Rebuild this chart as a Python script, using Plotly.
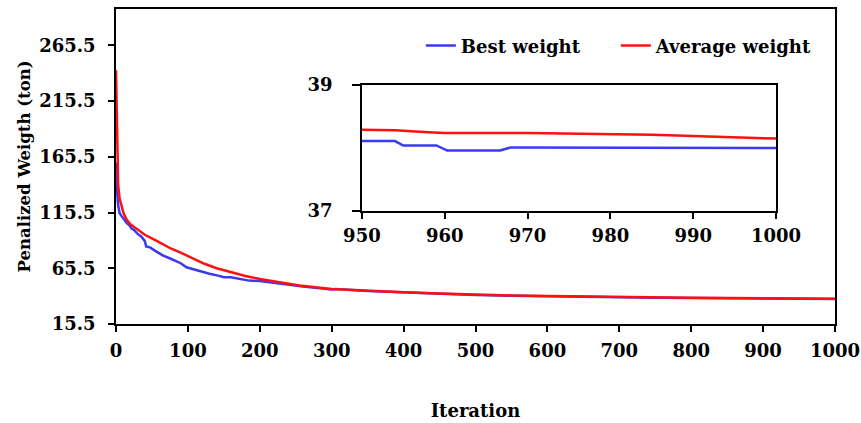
import plotly.graph_objects as go

# ---- data ----
avg_iter = [0, 1, 2, 3, 5, 7, 10, 12, 15, 20, 30, 40, 54, 65, 77, 90, 98, 110, 123,
            140, 160, 180, 200, 230, 255, 300, 350, 400, 450, 500, 550, 600, 650, 700,
            750, 800, 850, 900, 950, 954, 958, 960, 970, 975, 984, 985, 990, 995, 1000]
avg_weight = [243, 200, 155, 140, 128, 122, 116, 112.7, 109, 105, 100, 95.5, 91, 87, 83,
              79.5, 77, 73.5, 69.5, 65.5, 61.9, 58.5, 55.9, 52.5, 50, 47, 45.3, 44, 42.8,
              41.8, 41.1, 40.5, 40, 39.6, 39.3, 39.0, 38.75, 38.5, 38.29, 38.28, 38.25,
              38.24, 38.24, 38.23, 38.22, 38.21, 38.19, 38.17, 38.15]

best_iter = [0, 1, 2, 3, 5, 8, 12, 15, 19, 22, 25, 30, 35, 40, 42, 48, 54, 60, 65, 77,
             85, 90, 98, 105, 115, 123, 130, 142, 150, 160, 170, 176, 185, 200, 230, 260,
             300, 305, 350, 400, 450, 500, 550, 600, 650, 700, 750, 800, 850, 900, 950,
             954, 955, 959, 960.3, 966.7, 968, 1000]
best_weight = [160, 140, 130, 122, 115, 112, 108, 106, 103.7, 101, 100, 96.3, 94, 90, 85,
               84, 81.3, 79, 77, 73.8, 71, 70, 66.4, 65, 63.5, 61.9, 60.5, 58.9, 57.5,
               57.4, 56, 55, 54.4, 54, 51.5, 49.2, 46.5, 46.8, 45, 43.8, 42.6, 41.6, 40.9,
               40.3, 39.8, 39.4, 39.1, 38.85, 38.6, 38.35, 38.11, 38.11, 38.04, 38.04,
               37.96, 37.96, 38.01, 38.0]

main_x_ticks = [0, 100, 200, 300, 400, 500, 600, 700, 800, 900, 1000]
main_y_ticks = [15.5, 65.5, 115.5, 165.5, 215.5, 265.5]
inset_x_ticks = [950, 960, 970, 980, 990, 1000]
inset_y_ticks = [37, 39]

BLUE = "#3a3af2"
RED = "#ff1010"
FAM = "DejaVu Serif"
tick_font = dict(family=FAM, size=18, color="black", weight="bold")

fig = go.Figure()
fig.add_trace(go.Scatter(x=best_iter, y=best_weight, mode="lines", name="Best weight",
                         line=dict(color=BLUE, width=2.5)))
fig.add_trace(go.Scatter(x=avg_iter, y=avg_weight, mode="lines", name="Average weight",
                         line=dict(color=RED, width=2.5)))
fig.add_trace(go.Scatter(x=best_iter, y=best_weight, mode="lines", showlegend=False,
                         xaxis="x2", yaxis="y2", line=dict(color=BLUE, width=2.5)))
fig.add_trace(go.Scatter(x=avg_iter, y=avg_weight, mode="lines", showlegend=False,
                         xaxis="x2", yaxis="y2", line=dict(color=RED, width=2.5)))

axis_common = dict(showgrid=False, zeroline=False, showline=True, linecolor="black",
                   linewidth=1.5, tickcolor="black", tickwidth=1.5, mirror=True,
                   tickfont=tick_font, ticks="outside", automargin=False,
                   ticklabeloverflow="allow")
cross_common = dict(ticks="inside", ticklen=6, tickwidth=1.5, tickcolor="black",
                    showticklabels=False, showline=False, showgrid=False,
                    zeroline=False, automargin=False)

fig.update_layout(
    width=861, height=423,
    margin=dict(l=116, r=26, t=9, b=99, autoexpand=False),
    paper_bgcolor="white", plot_bgcolor="white",
    showlegend=True,
    legend=dict(orientation="h", x=0.424, xanchor="left", y=0.883, yanchor="middle",
                font=dict(family=FAM, size=18, color="black", weight="bold"),
                bgcolor="rgba(0,0,0,0)", entrywidth=150, entrywidthmode="pixels",
                tracegroupgap=0),
    xaxis=dict(axis_common, domain=[0, 1], range=[0, 1000], tickvals=main_x_ticks,
               ticklen=6, ticklabelstandoff=4, anchor="y",
               title=dict(text="Iteration",
                          font=dict(family=FAM, size=18, color="black", weight="bold"),
                          standoff=44)),
    yaxis=dict(axis_common, domain=[0, 1], range=[15.5, 298], tickvals=main_y_ticks,
               ticktext=[f"{v:.1f}" for v in main_y_ticks],
               ticklen=6, ticklabelstandoff=9, anchor="x",
               title=dict(text="Penalized Weigth (ton)",
                          font=dict(family=FAM, size=16.5, color="black", weight="bold"),
                          standoff=5)),
    xaxis3=dict(cross_common, overlaying="x", anchor="y", range=[0, 1000],
                tickvals=main_x_ticks),
    yaxis3=dict(cross_common, overlaying="y", anchor="x", range=[15.5, 298],
                tickvals=main_y_ticks),
    xaxis2=dict(axis_common, domain=[0.342, 0.918], range=[950, 1000],
                tickvals=inset_x_ticks, ticklen=6, ticklabelstandoff=2, anchor="y2"),
    yaxis2=dict(axis_common, domain=[0.3587, 0.7587], range=[37, 39],
                tickvals=inset_y_ticks, ticklen=8, ticklabelstandoff=16, anchor="x2"),
    xaxis4=dict(cross_common, overlaying="x2", anchor="y2", range=[950, 1000],
                tickvals=inset_x_ticks),
)

# remove the browser's default 8px page margin so the figure fills the window exactly
fig.write_html("out.html", config={"displayModeBar": False},
               post_script="document.body.style.margin='0';")
